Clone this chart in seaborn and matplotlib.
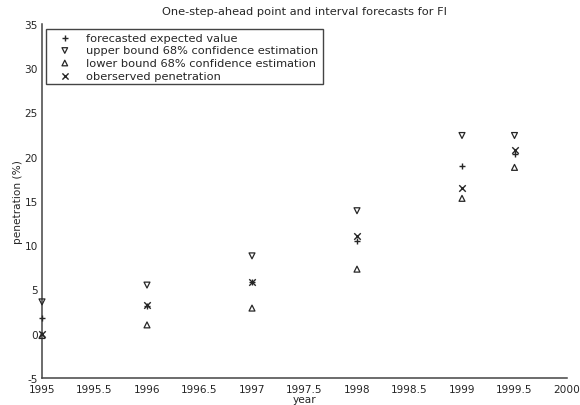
import numpy as np
import pandas as pd
import matplotlib
matplotlib.use("Agg")
import matplotlib.pyplot as plt
import seaborn as sns

years = [1995.0, 1996.0, 1997.0, 1998.0, 1999.0, 1999.5]
expected = [1.8, 3.1, 5.8, 10.5, 18.9, 20.3]
upper = [3.6, 5.5, 8.8, 13.9, 22.4, 22.4]
lower = [-0.2, 1.0, 2.9, 7.3, 15.3, 18.8]
observed = [0.0, 3.2, 5.8, 11.0, 16.5, 20.8]

series_names = [
    "forecasted expected value",
    "upper bound 68% confidence estimation",
    "lower bound 68% confidence estimation",
    "oberserved penetration",
]
series_values = [expected, upper, lower, observed]
series_markers = ["+", "v", "^", "x"]

xticks = [1995, 1995.5, 1996, 1996.5, 1997, 1997.5, 1998, 1998.5, 1999, 1999.5, 2000]
yticks = [-5, 0, 5, 10, 15, 20, 25, 30, 35]

sns.set_style("white")
plt.rcParams["font.family"] = ["DejaVu Sans"]
plt.rcParams["axes.unicode_minus"] = False

ink = "#262626"

fig = plt.figure(figsize=(5.8, 4.06), dpi=100)
ax = fig.add_axes([42 / 580, 1 - 379 / 406, (567 - 42) / 580, (379 - 25) / 406])

df = pd.DataFrame({
    "year": np.tile(years, len(series_names)),
    "value": np.concatenate(series_values),
    "series": np.repeat(series_names, len(years)),
})

for name, mk in zip(series_names, series_markers):
    sub = df[df["series"] == name]
    if mk in ("+", "x"):
        sns.scatterplot(data=sub, x="year", y="value", marker=mk, color=ink,
                        s=22, linewidth=1.0, ax=ax, label=name, legend=False,
                        clip_on=False, zorder=3)
    else:
        sns.scatterplot(data=sub, x="year", y="value", marker=mk, facecolor="none",
                        edgecolor=ink, s=18, linewidth=0.9, ax=ax, label=name,
                        legend=False, clip_on=False, zorder=3)

ax.set_xlim(1995, 2000)
ax.set_ylim(-5, 35)
ax.set_xticks(xticks)
ax.set_xticklabels([f"{t:g}" for t in xticks])
ax.set_yticks(yticks)
ax.set_yticklabels([f"{t:g}" for t in yticks])

for side in ("top", "right"):
    ax.spines[side].set_visible(False)
for side in ("left", "bottom"):
    ax.spines[side].set_color("#444444")
    ax.spines[side].set_linewidth(1.1)

ax.tick_params(axis="both", direction="in", length=3, width=0.8, color="#444444",
               labelsize=7.6, labelcolor=ink)
ax.tick_params(axis="x", pad=4)
ax.tick_params(axis="y", pad=3)

ax.set_xlabel("year", fontsize=7.6, color=ink, labelpad=0)
ax.set_ylabel("penetration (%)", fontsize=7.6, color=ink, labelpad=1)
ax.set_title("One-step-ahead point and interval forecasts for FI", fontsize=8.2,
             color=ink, pad=7)

leg = ax.legend(loc="upper left", bbox_to_anchor=(4 / 525, 1 - 5 / 354), fontsize=8.2,
                frameon=True, fancybox=False, shadow=False, borderpad=0.35,
                handletextpad=0.6, labelspacing=0.22, handlelength=2.6,
                borderaxespad=0, markerscale=0.95)
leg.get_frame().set_edgecolor("#444444")
leg.get_frame().set_linewidth(1.0)
leg.get_frame().set_alpha(1)
for t in leg.get_texts():
    t.set_color(ink)

fig.savefig("out.png", dpi=100)
